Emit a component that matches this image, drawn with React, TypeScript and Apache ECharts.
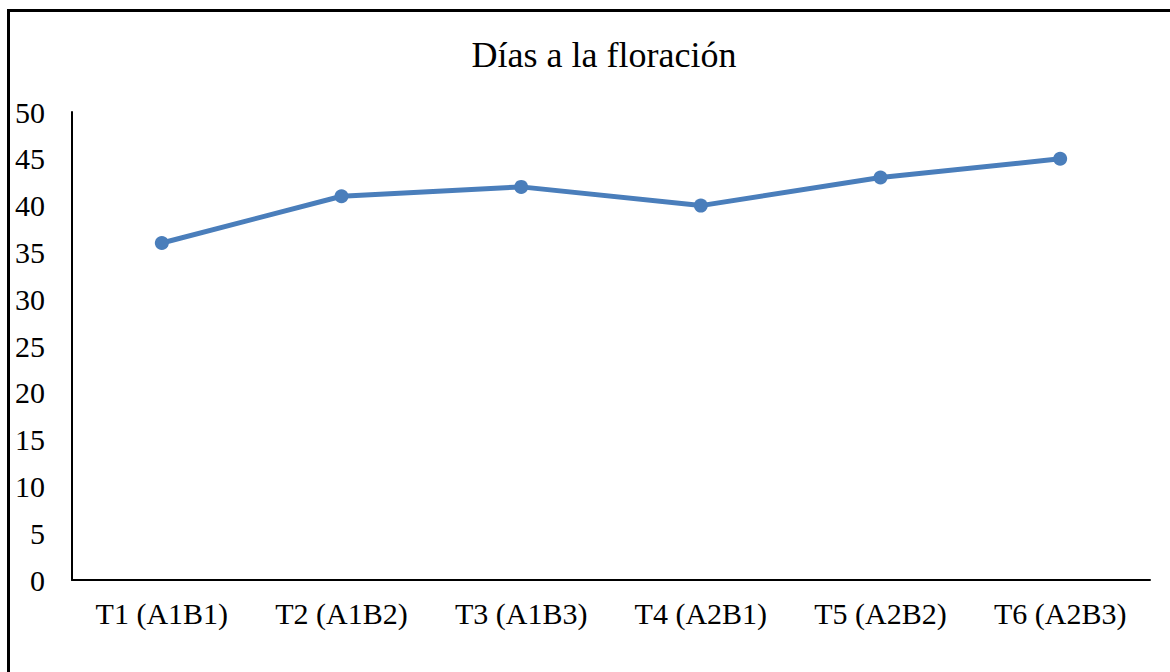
import React, { useEffect, useRef } from "react";
import * as echarts from "echarts";

const categories = ["T1 (A1B1)", "T2 (A1B2)", "T3 (A1B3)", "T4 (A2B1)", "T5 (A2B2)", "T6 (A2B3)"];
const values = [36, 41, 42, 40, 43, 45];
const titleText = "Días a la floración";

export default function App() {
  const ref = useRef<HTMLDivElement>(null);
  useEffect(() => {
    if (!ref.current) return;
    const chart = echarts.init(ref.current, undefined, { renderer: "svg" });
    const font = "Liberation Serif";
    chart.setOption({
      animation: false,
      backgroundColor: "#ffffff",
      title: {
        text: titleText,
        left: 599,
        textAlign: "center",
        top: 32,
        textStyle: { fontFamily: font, fontSize: 36, fontWeight: "normal", color: "#000" },
      },
      graphic: [
        {
          type: "rect",
          shape: { x: 8.5, y: 10.5, width: 1300, height: 800 },
          style: { fill: "none", stroke: "#000", lineWidth: 3 },
          silent: true,
        },
      ],
      grid: { left: 72, right: 20, top: 112, bottom: 92, containLabel: false },
      xAxis: {
        type: "category",
        data: categories,
        boundaryGap: true,
        axisLine: { show: true, lineStyle: { color: "#000", width: 2 } },
        axisTick: { show: false },
        axisLabel: { fontFamily: font, fontSize: 30, color: "#000", margin: 18 },
        splitLine: { show: false },
      },
      yAxis: {
        type: "value",
        min: 0,
        max: 50,
        interval: 5,
        axisLine: { show: true, lineStyle: { color: "#000", width: 2 } },
        axisTick: { show: false },
        axisLabel: { fontFamily: font, fontSize: 30, color: "#000", margin: 27 },
        splitLine: { show: false },
      },
      series: [
        {
          type: "line",
          data: values,
          symbol: "circle",
          symbolSize: 14,
          lineStyle: { color: "#4A7EBB", width: 5 },
          itemStyle: { color: "#4A7EBB" },
        },
      ],
    });
    return () => chart.dispose();
  }, []);
  return (
    <div
      ref={ref}
      style={{ position: "absolute", left: 0, top: 0, width: 1170, height: 672, overflow: "hidden" }}
    />
  );
}
